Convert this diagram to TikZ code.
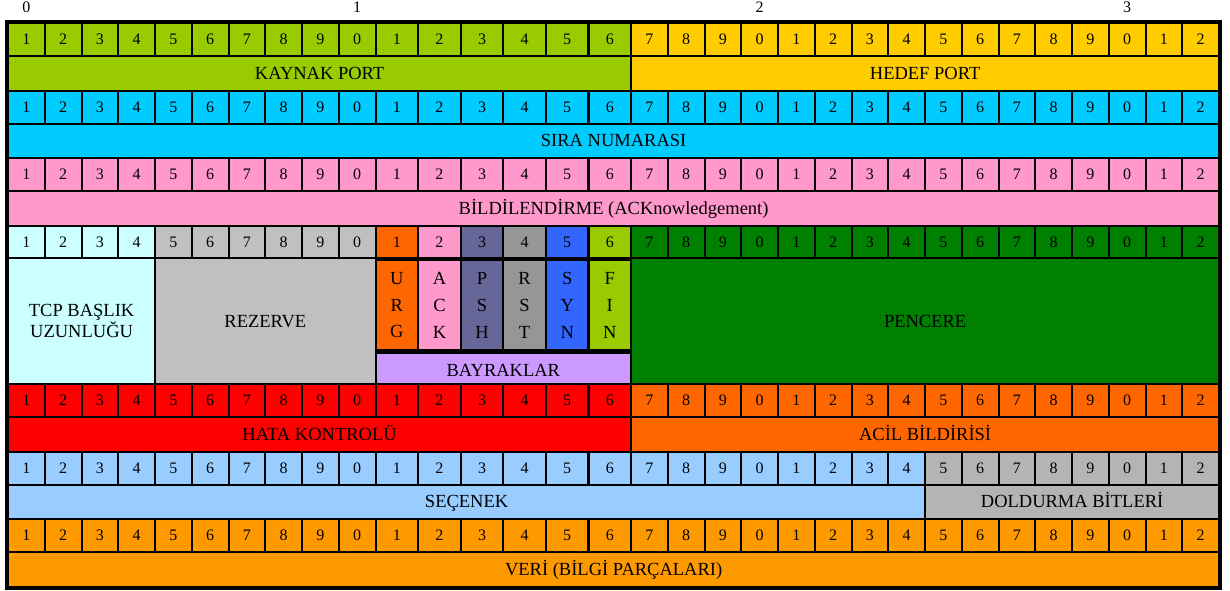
\documentclass[tikz,border=0pt]{standalone}
\usepackage{fontspec}
\setmainfont{Liberation Serif}
\usetikzlibrary{positioning}
\definecolor{portgreen}{RGB}{153, 204, 0}
\definecolor{portgold}{RGB}{255, 204, 0}
\definecolor{seqblue}{RGB}{0, 204, 255}
\definecolor{ackpink}{RGB}{255, 153, 204}
\definecolor{hlencyan}{RGB}{204, 255, 255}
\definecolor{resgray}{RGB}{192, 192, 192}
\definecolor{urgorange}{RGB}{255, 102, 0}
\definecolor{pshpurple}{RGB}{102, 102, 153}
\definecolor{rstgray}{RGB}{150, 150, 150}
\definecolor{synblue}{RGB}{51, 102, 255}
\definecolor{flaglilac}{RGB}{204, 153, 255}
\definecolor{wingreen}{RGB}{0, 128, 0}
\definecolor{errred}{RGB}{255, 0, 0}
\definecolor{optblue}{RGB}{153, 204, 255}
\definecolor{padgray}{RGB}{180, 180, 180}
\definecolor{dataorange}{RGB}{255, 153, 0}

% x position and width of bit column #1
\newcommand{\bitcol}[1]{%
  \pgfmathsetmacro{\bitx}{#1<11 ? 7+(#1-1)*36.75 : (#1<17 ? 374.5+(#1-11)*42.58 : 630+(#1-17)*36.75)}%
  \pgfmathsetmacro{\bitw}{(#1>10)*(#1<17) ? 42.58 : 36.75}}
% one run of numbered bit cells: name, top, height, from, to, colour
\newcommand{\bitcells}[6]{%
  \foreach \i in {#4,...,#5}{%
    \bitcol{\i}%
    \pgfmathtruncatemacro{\bitd}{mod(\i,10)}%
    \node[bit, fill=#6, minimum width=\bitw, minimum height=#3] (#1\i) at (\bitx,#2) {\bitd};
  }}

\begin{document}
\begin{tikzpicture}[x=1pt, y=-1pt,
    bit/.style={draw, line width=2.2pt, inner sep=0pt, anchor=north west, font=\fontsize{16}{18}\selectfont},
    field/.style={draw, line width=2.2pt, inner sep=0pt, anchor=north west, align=center, font=\fontsize{18.5}{21.5}\selectfont},
    oneline/.style={field, text height=16.2pt, text depth=4pt},
    flag/.style={field, font=\fontsize{18.5}{26.7}\selectfont},
    ruler/.style={font=\fontsize{16}{18}\selectfont}]
    \useasboundingbox (0,0) rectangle (1230,590);

    % source / destination port
    \bitcells{a}{22}{33}{1}{16}{portgreen}
    \bitcells{a}{22}{33}{17}{32}{portgold}
    \node[oneline, fill=portgreen, minimum width=623, minimum height=34.5] (kaynak) at (7,55) {KAYNAK PORT};
    \node[oneline, fill=portgold, minimum width=588, minimum height=34.5] (hedef) at (630,55) {HEDEF PORT};

    % sequence number
    \bitcells{b}{89.5}{33}{1}{32}{seqblue}
    \node[oneline, fill=seqblue, minimum width=1211, minimum height=34.5] (sira) at (7,122.5) {SIRA NUMARASI};

    % acknowledgement
    \bitcells{c}{157}{33}{1}{32}{ackpink}
    \node[oneline, fill=ackpink, minimum width=1211, minimum height=34.5] (onay) at (7,190) {BİLDİLENDİRME (ACKnowledgement)};

    % header length, reserved, flags, window
    \bitcells{d}{224.5}{32.5}{1}{4}{hlencyan}
    \bitcells{d}{224.5}{32.5}{5}{10}{resgray}
    \bitcells{d}{224.5}{32.5}{11}{11}{urgorange}
    \bitcells{d}{224.5}{32.5}{12}{12}{ackpink}
    \bitcells{d}{224.5}{32.5}{13}{13}{pshpurple}
    \bitcells{d}{224.5}{32.5}{14}{14}{rstgray}
    \bitcells{d}{224.5}{32.5}{15}{15}{synblue}
    \bitcells{d}{224.5}{32.5}{16}{16}{portgreen}
    \bitcells{d}{224.5}{32.5}{17}{32}{wingreen}
    \node[field, fill=hlencyan, minimum width=147, minimum height=126] (baslik) at (7,257) {TCP BAŞLIK\\UZUNLUĞU};
    \node[oneline, fill=resgray, minimum width=220.5, minimum height=126] (rezerve) at (154,257) {REZERVE};
    \node[flag, fill=urgorange, minimum width=42.58, minimum height=90] (urg) at (d11.south west) {U\\R\\G};
    \node[flag, fill=ackpink, minimum width=42.58, minimum height=90] (ack) at (d12.south west) {A\\C\\K};
    \node[flag, fill=pshpurple, minimum width=42.58, minimum height=90] (psh) at (d13.south west) {P\\S\\H};
    \node[flag, fill=rstgray, minimum width=42.58, minimum height=90] (rst) at (d14.south west) {R\\S\\T};
    \node[flag, fill=synblue, minimum width=42.58, minimum height=90] (syn) at (d15.south west) {S\\Y\\N};
    \node[flag, fill=portgreen, minimum width=42.58, minimum height=90] (fin) at (d16.south west) {F\\I\\N};
    \node[oneline, fill=flaglilac, minimum width=255.5, minimum height=36] (bayrak) at (urg.south west) {BAYRAKLAR};
    \node[oneline, fill=wingreen, minimum width=588, minimum height=126] (pencere) at (630,257) {PENCERE};

    % checksum / urgent pointer
    \bitcells{e}{383}{33}{1}{16}{errred}
    \bitcells{e}{383}{33}{17}{32}{urgorange}
    \node[oneline, fill=errred, minimum width=623, minimum height=34.5] (hata) at (7,416) {HATA KONTROLÜ};
    \node[oneline, fill=urgorange, minimum width=588, minimum height=34.5] (acil) at (630,416) {ACİL BİLDİRİSİ};

    % options / padding
    \bitcells{f}{450.5}{33}{1}{24}{optblue}
    \bitcells{f}{450.5}{33}{25}{32}{padgray}
    \node[oneline, fill=optblue, minimum width=917, minimum height=34.5] (secenek) at (7,483.5) {SEÇENEK};
    \node[oneline, fill=padgray, minimum width=294, minimum height=34.5] (dolgu) at (924,483.5) {DOLDURMA BİTLERİ};

    % data
    \bitcells{g}{518}{33}{1}{32}{dataorange}
    \node[oneline, fill=dataorange, minimum width=1211, minimum height=34.5] (veri) at (7,551) {VERİ (BİLGİ PARÇALARI)};

    \draw[line width=4pt] (a1.north west) rectangle (veri.south east);

    % bit ruler
    \node[ruler] (z0) at (a1.center |- 0,7) {0};
    \node[ruler] (z1) at (a10.center |- 0,7) {1};
    \node[ruler] (z2) at (a20.center |- 0,7) {2};
    \node[ruler] (z3) at (a30.center |- 0,7) {3};
\end{tikzpicture}
\end{document}
